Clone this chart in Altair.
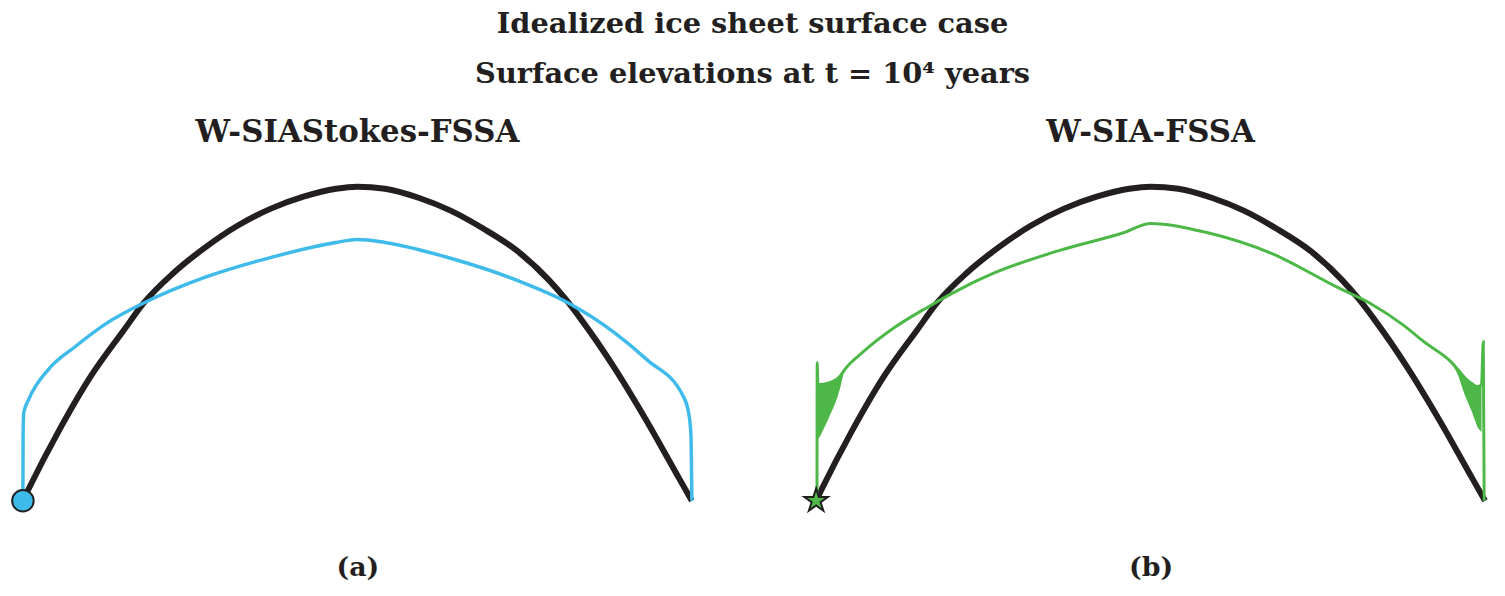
import altair as alt
import pandas as pd

# Initial ice sheet surface (black), distance in km, elevation in m
black_x = [0, 13, 79, 152, 227, 271, 337, 409, 482, 556, 629, 702, 750,
           812, 887, 959, 1032, 1107, 1179, 1217, 1252, 1327, 1399, 1472, 1500]
black_y = [0, 114, 655, 1187, 1633, 1889, 2173, 2420, 2629, 2790, 2904, 2980, 3000,
           2980, 2894, 2771, 2600, 2391, 2110, 1925, 1730, 1265, 760, 209, 0]

# W-SIAStokes-FSSA surface at t = 1e4 years (blue)
blue_x = [0, 0.4, 2, 13, 57, 117, 189, 271, 409, 557, 702, 750,
          812, 959, 1107, 1223, 1327, 1399, 1481, 1494, 1498, 1500]
blue_y = [0, 617, 845, 968, 1253, 1471, 1699, 1889, 2135, 2325, 2467, 2496,
          2467, 2316, 2107, 1889, 1604, 1348, 996, 807, 617, 0]

# W-SIA-FSSA surface at t = 1e4 years (green)
green_x = [2, 2.4, 4, 31, 53, 64, 106, 178, 251, 310, 398, 546, 691, 750,
           876, 1021, 1168, 1241, 1316, 1366, 1423, 1439, 1454, 1470, 1483, 1492, 1496, 1498]
green_y = [0, 1319, 1110, 1129, 1186, 1253, 1424, 1661, 1851, 1993, 2173, 2391, 2562, 2648,
           2562, 2363, 2040, 1889, 1680, 1509, 1329, 1253, 1177, 1120, 1091, 1110, 1518, 0]

# Oscillation envelopes of the green solution near the margins
osc_left_x = [4, 9, 24, 40, 46, 53, 62]
osc_left_top = [1110, 1110, 1129, 1148, 1158, 1186, 1234]
osc_left_bot = [588, 617, 750, 902, 968, 1063, 1224]
osc_right_x = [1423, 1439, 1454, 1470, 1483, 1492]
osc_right_top = [1329, 1253, 1177, 1120, 1091, 1110]
osc_right_bot = [1329, 1205, 1015, 854, 702, 655]

# Margin marker positions
marker_x = [0]
marker_y = [0]

BLACK = "#231f20"
BLUE = "#3fbbeb"
GREEN = "#4db848"
FONT = "DejaVu Serif"
STAR = ("M0,-1L0.2245,-0.309L0.9511,-0.309L0.3633,0.118L0.5878,0.809L0,0.382"
        "L-0.5878,0.809L-0.3633,0.118L-0.9511,-0.309L-0.2245,-0.309Z")

W, H = 673, 316

black_df = pd.DataFrame({"x": black_x, "y": black_y})
blue_df = pd.DataFrame({"x": blue_x, "y": blue_y})
green_df = pd.DataFrame({"x": green_x, "y": green_y})
osc_l = pd.DataFrame({"x": osc_left_x, "top": osc_left_top, "bot": osc_left_bot})
osc_r = pd.DataFrame({"x": osc_right_x, "top": osc_right_top, "bot": osc_right_bot})
marker_df = pd.DataFrame({"x": marker_x, "y": marker_y})

XS = alt.Scale(domain=[0, 1500], nice=False, zero=False)
YS = alt.Scale(domain=[0, 3000], nice=False, zero=False)


def xenc(label):
    return alt.X("x:Q", scale=XS, title=label,
                 axis=alt.Axis(domain=False, ticks=False, labels=False, grid=False,
                               titleFont=FONT, titleFontSize=27, titleFontWeight="bold",
                               titleColor=BLACK, titlePadding=54))


def yenc(field="y"):
    return alt.Y(f"{field}:Q", scale=YS, axis=None)


def line_layer(df, color, width, label):
    return alt.Chart(df).mark_line(color=color, strokeWidth=width, interpolate="monotone").encode(
        x=xenc(label), y=yenc())


def panel(title, layers):
    return alt.layer(*layers).properties(
        width=W, height=H,
        title=alt.TitleParams(title, font=FONT, fontSize=31, fontWeight="bold",
                              color=BLACK, anchor="middle", offset=26))


panel_a = panel("W-SIAStokes-FSSA", [
    line_layer(black_df, BLACK, 6, "(a)"),
    line_layer(blue_df, BLUE, 3.5, "(a)"),
    alt.Chart(marker_df).mark_point(shape="circle", filled=True, fill=BLUE, stroke=BLACK,
                                    strokeWidth=2, size=470, opacity=1).encode(
        x=xenc("(a)"), y=yenc()),
])

panel_b = panel("W-SIA-FSSA", [
    line_layer(black_df, BLACK, 6, "(b)"),
    alt.Chart(osc_l).mark_area(color=GREEN, opacity=1).encode(
        x=xenc("(b)"), y=yenc("top"), y2="bot:Q"),
    alt.Chart(osc_r).mark_area(color=GREEN, opacity=1).encode(
        x=xenc("(b)"), y=yenc("top"), y2="bot:Q"),
    line_layer(green_df, GREEN, 3, "(b)"),
    alt.Chart(marker_df).mark_point(shape=STAR, filled=True, fill=GREEN, stroke=BLACK,
                                    strokeWidth=2, size=620, opacity=1).encode(
        x=xenc("(b)"), y=yenc()),
])

chart = alt.hconcat(panel_a, panel_b, spacing=125, bounds="flush").properties(
    title=alt.TitleParams(
        "Idealized ice sheet surface case",
        subtitle="Surface elevations at t = 10⁴ years",
        font=FONT, fontSize=29, fontWeight="bold", color=BLACK, anchor="middle",
        subtitleFont=FONT, subtitleFontSize=29, subtitleFontWeight="bold",
        subtitleColor=BLACK, subtitlePadding=22, offset=28),
    padding={"left": 0, "top": 0, "right": 0, "bottom": 0},
).configure_view(strokeWidth=0)

chart.save("out.html", embed_options={"renderer": "svg", "actions": False})
